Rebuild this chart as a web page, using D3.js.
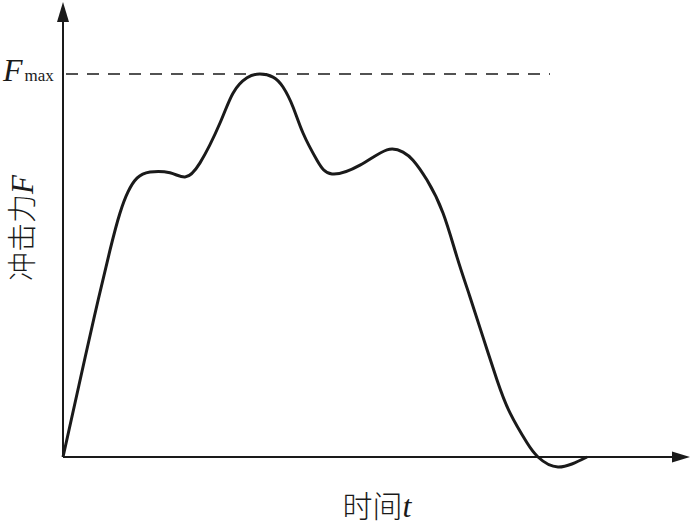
<!DOCTYPE html>
<html><head><meta charset="utf-8">
<script src="https://cdn.jsdelivr.net/npm/d3@7"></script>
<style>body{margin:0;background:#fff}</style>
</head><body>
<script>
const timeT = [0,0.16,0.31,0.47,0.57,0.65,0.74,0.87,1.07,1.22,1.37,1.57,1.70,1.84,1.97,2.10,2.20,2.30,2.40,2.54,2.69,2.97,3.24,3.40,3.50,3.64,3.80,3.94,4.07,4.20,4.34,4.47,4.64,4.75,4.95,5.24];
const forceF = [0,0.188,0.363,0.540,0.637,0.692,0.728,0.744,0.742,0.731,0.768,0.872,0.950,0.990,1.0,0.992,0.966,0.914,0.846,0.775,0.739,0.762,0.802,0.796,0.775,0.723,0.637,0.522,0.418,0.313,0.201,0.115,0.037,0,-0.026,0];
const fmax = 1.0;
const fmaxEnd = 4.87;
const xLabel = ["时间","t"];
const yLabel = ["冲击力","F"];

const W=692,H=526;
const svg=d3.select("body").append("svg").attr("width",W).attr("height",H);
const x=d3.scaleLinear().domain([0,6.27]).range([63,690]);
const y=d3.scaleLinear().domain([0,1]).range([457,74]);
const ink="#1a1a1a";

// axes
svg.append("line").attr("x1",x(0)).attr("y1",y(0)).attr("x2",x(6.27)-12).attr("y2",y(0)).attr("stroke",ink).attr("stroke-width",2);
svg.append("line").attr("x1",x(0)).attr("y1",y(0)).attr("x2",x(0)).attr("y2",y(1.188)+12).attr("stroke",ink).attr("stroke-width",2);
// arrowheads
const xt=x(6.27), yt=y(0);
svg.append("path").attr("d",`M${xt},${yt} L${xt-18},${yt-5.5} L${xt-18},${yt+5.5} Z`).attr("fill",ink);
const ax=x(0), ay=y(1.188);
svg.append("path").attr("d",`M${ax},${ay} L${ax-6},${ay+20} L${ax+6},${ay+20} Z`).attr("fill",ink);

// Fmax dashed line
svg.append("line").attr("x1",x(0)).attr("x2",x(fmaxEnd)).attr("y1",y(fmax)).attr("y2",y(fmax))
  .attr("stroke",ink).attr("stroke-width",1.5).attr("stroke-dasharray","12,9").attr("stroke-dashoffset",-3);

// curve
const pts=timeT.map((t,i)=>[t,forceF[i]]);
const line=d3.line().x(d=>x(d[0])).y(d=>y(d[1])).curve(d3.curveNatural);
svg.append("path").attr("d",line(pts)).attr("fill","none").attr("stroke",ink).attr("stroke-width",3).attr("stroke-linejoin","round");

// Fmax label
const fl=svg.append("text").attr("x",3).attr("y",y(fmax)+7).attr("fill",ink).attr("font-family","'Liberation Serif',serif");
fl.append("tspan").attr("font-style","italic").attr("font-size",32).text("F");
fl.append("tspan").attr("font-size",17).attr("dx",2).text("max");

// x label
const xl=svg.append("text").attr("x",377).attr("y",517).attr("text-anchor","middle").attr("fill",ink).attr("font-size",30);
xl.append("tspan").attr("font-family","'Noto Sans CJK SC'").attr("font-weight",300).text(xLabel[0]);
xl.append("tspan").attr("font-family","'Liberation Serif',serif").attr("font-style","italic").attr("font-size",32).text(xLabel[1]);

// y label
const yl=svg.append("text").attr("transform","translate(33,228) rotate(-90)").attr("text-anchor","middle").attr("fill",ink).attr("font-size",29);
yl.append("tspan").attr("font-family","'Noto Sans CJK SC'").attr("font-weight",300).text(yLabel[0]);
yl.append("tspan").attr("font-family","'Liberation Serif',serif").attr("font-style","italic").attr("font-size",31).text(yLabel[1]);
</script>
</body></html>
